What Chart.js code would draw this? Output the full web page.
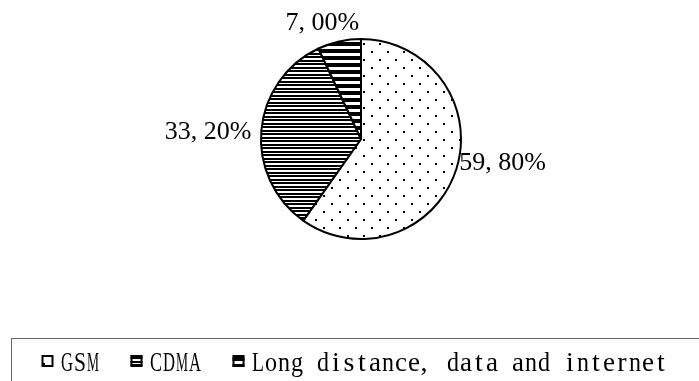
<!DOCTYPE html>
<html>
<head>
<meta charset="utf-8">
<script src="https://cdn.jsdelivr.net/npm/chart.js@4"></script>
<style>
html, body { margin: 0; padding: 0; background: #fff; }
#wrap { width: 699px; height: 381px; }
</style>
</head>
<body>
<div id="wrap"><canvas id="pieChart" width="699" height="381"></canvas></div>
<script>
const categories = ['GSM', 'CDMA', 'Long distance, data and internet'];
const shares = [59.8, 33.2, 7.0];
const valueLabels = ['59, 80%', '33, 20%', '7, 00%'];

// hatch fills like the print-style original
function makePattern(kind) {
    const c = document.createElement('canvas');
    const g = c.getContext('2d');
    if (kind === 'dots') {
        c.width = 16; c.height = 16;
        g.fillStyle = '#fff'; g.fillRect(0, 0, 16, 16);
        g.fillStyle = '#000';
        g.fillRect(3, 3, 2, 2);
        g.fillRect(11, 11, 2, 2);
    } else if (kind === 'thin') {
        c.width = 4; c.height = 7;
        g.fillStyle = '#fff'; g.fillRect(0, 0, 4, 7);
        g.fillStyle = '#000';
        g.fillRect(0, 0, 4, 2);
        g.fillRect(0, 4, 4, 2);
    } else {
        c.width = 4; c.height = 7;
        g.fillStyle = '#fff'; g.fillRect(0, 0, 4, 7);
        g.fillStyle = '#000';
        g.fillRect(0, 0, 4, 4);
    }
    return g.createPattern(c, 'repeat');
}

const fills = [makePattern('dots'), makePattern('thin'), makePattern('thick')];

const CELL = 13;
const LEGEND_FONT = '28px "Liberation Serif"';
const LABEL_FONT = '26px "Liberation Serif"';

// half-width serif text on a fixed grid, SimSun style
function drawMono(ctx, text, x, y) {
    ctx.save();
    ctx.font = LEGEND_FONT;
    ctx.textAlign = 'center';
    ctx.textBaseline = 'alphabetic';
    for (let i = 0; i < text.length; i++) {
        const ch = text[i];
        const w = ctx.measureText(ch).width;
        const s = Math.min(1, (CELL - 1) / w);
        const shift = (ch === ',' || ch === '.') ? -3 : 0;
        ctx.save();
        ctx.translate(x + i * CELL + CELL / 2 + shift, y);
        ctx.scale(s, 1);
        ctx.fillText(ch, 0, 0);
        ctx.restore();
    }
    ctx.restore();
}

const outsideLabels = {
    id: 'outsideLabels',
    afterDatasetsDraw(chart) {
        const ctx = chart.ctx;
        const meta = chart.getDatasetMeta(0);
        ctx.save();
        ctx.font = LABEL_FONT;
        ctx.fillStyle = '#000';
        ctx.textBaseline = 'middle';
        meta.data.forEach((arc, i) => {
            const p = arc.getProps(['x', 'y', 'startAngle', 'endAngle', 'outerRadius'], true);
            const mid = (p.startAngle + p.endAngle) / 2;
            const cos = Math.cos(mid), sin = Math.sin(mid);
            let tx, ty;
            if (Math.abs(cos) < 0.4) {
                ctx.textAlign = 'center';
                tx = p.x + cos * (p.outerRadius + 8) - 15;
                ty = p.y + sin * (p.outerRadius + 6) - 12;
            } else if (cos > 0) {
                ctx.textAlign = 'left';
                tx = p.x + cos * (p.outerRadius + 3);
                ty = p.y + sin * p.outerRadius * 0.8;
            } else {
                ctx.textAlign = 'right';
                tx = p.x + cos * (p.outerRadius + 10);
                ty = p.y + sin * p.outerRadius * 0.8;
            }
            ctx.fillText(valueLabels[i], tx, ty);
        });
        ctx.restore();
    }
};

const boxLegend = {
    id: 'boxLegend',
    afterDraw(chart) {
        const ctx = chart.ctx;
        const ds = chart.data.datasets[0];
        ctx.save();
        ctx.strokeStyle = '#666';
        ctx.lineWidth = 1;
        ctx.strokeRect(11.5, 338.5, 720, 60);
        const widths = chart.data.labels.map(l => 20 + l.length * CELL);
        const total = widths.reduce((a, b) => a + b, 0) + 30 * (widths.length - 1);
        let x = 355 - total / 2;
        chart.data.labels.forEach((l, i) => {
            ctx.fillStyle = ds.backgroundColor[i];
            ctx.fillRect(x, 355, 12, 12);
            ctx.strokeStyle = '#000';
            ctx.lineWidth = 2;
            ctx.strokeRect(x + 1, 356, 10, 10);
            ctx.fillStyle = '#000';
            drawMono(ctx, l, x + 19, 371);
            x += widths[i] + 30;
        });
        ctx.restore();
    }
};

const chart = new Chart(document.getElementById('pieChart').getContext('2d'), {
    type: 'pie',
    data: {
        labels: categories,
        datasets: [{
            data: shares,
            backgroundColor: fills,
            borderColor: '#000',
            borderWidth: 2,
            radius: 100
        }]
    },
    options: {
        responsive: false,
        animation: false,
        events: [],
        layout: { padding: { left: 23, right: 0, top: 0, bottom: 103 } },
        plugins: {
            legend: { display: false },
            tooltip: { enabled: false }
        }
    },
    plugins: [outsideLabels, boxLegend]
});
</script>
</body>
</html>
